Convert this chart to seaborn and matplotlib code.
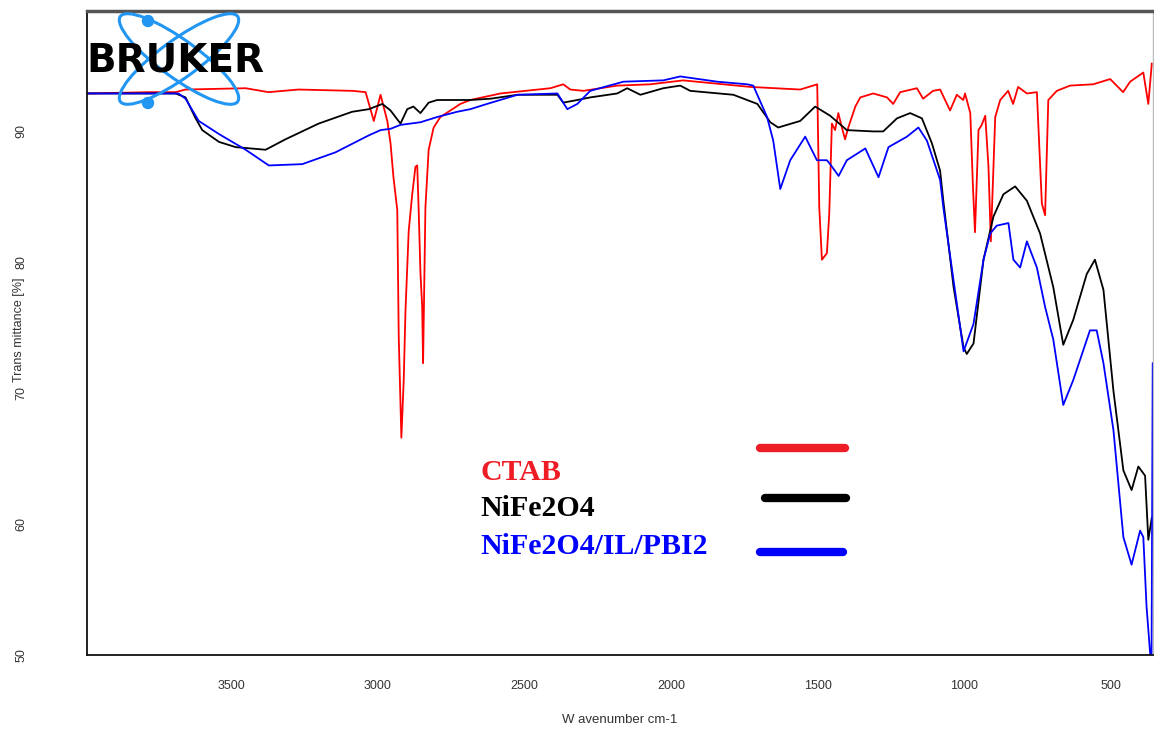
import numpy as np
import pandas as pd
import seaborn as sns
import matplotlib.pyplot as plt
from matplotlib.patches import Ellipse, Circle

# FTIR spectra (wavenumber cm-1, transmittance %)
ctab_wn = [3990, 3775, 3690, 3656, 3451, 3373, 3271, 3087, 3042, 3014, 2991, 2968, 2957, 2947,
           2934, 2929, 2920, 2912, 2906, 2895, 2883, 2872, 2866, 2861, 2855, 2849, 2846, 2838,
           2827, 2810, 2787, 2753, 2719, 2685, 2582, 2412, 2368, 2344, 2299, 2184, 2071, 1959,
           1730, 1560, 1502, 1495, 1486, 1469, 1461, 1452, 1441, 1430, 1418, 1407, 1396, 1372,
           1355, 1311, 1264, 1243, 1219, 1162, 1141, 1107, 1083, 1049, 1026, 1004, 998, 980,
           971, 964, 952, 941, 929, 918, 910, 895, 878, 851, 834, 817, 787, 753, 736, 725,
           714, 685, 640, 561, 503, 459, 435, 390, 373, 361]
ctab_t = [92.9, 93.0, 93.0, 93.2, 93.3, 93.0, 93.2, 93.1, 93.0, 90.8, 92.8, 90.8, 89.1, 86.5,
          84.0, 74.3, 66.6, 71.0, 76.3, 82.4, 85.2, 87.3, 87.4, 84.0, 79.2, 76.6, 72.3, 84.2,
          88.6, 90.3, 91.1, 91.6, 92.1, 92.4, 92.9, 93.3, 93.6, 93.2, 93.1, 93.5, 93.6, 93.9,
          93.4, 93.2, 93.6, 84.2, 80.2, 80.7, 83.7, 90.6, 90.1, 91.4, 90.3, 89.4, 90.3, 91.9,
          92.6, 92.9, 92.6, 92.1, 93.0, 93.3, 92.5, 93.1, 93.2, 91.6, 92.8, 92.4, 92.9, 91.4,
          85.8, 82.3, 90.1, 90.5, 91.2, 87.3, 81.6, 91.1, 92.4, 93.1, 92.1, 93.4, 92.9, 93.0,
          84.5, 83.6, 92.4, 93.1, 93.5, 93.6, 94.0, 93.0, 93.8, 94.5, 92.1, 95.2]

nife_wn = [3990, 3690, 3656, 3624, 3599, 3542, 3485, 3383, 3315, 3202, 3088, 3031, 2985, 2957,
           2923, 2900, 2879, 2855, 2827, 2798, 2685, 2616, 2524, 2388, 2368, 2320, 2276, 2184,
           2150, 2105, 2027, 1969, 1935, 1788, 1706, 1662, 1635, 1560, 1509, 1458, 1401, 1311,
           1277, 1230, 1185, 1145, 1111, 1083, 1072, 1037, 1003, 992, 969, 935, 901, 867, 827,
           787, 742, 697, 663, 629, 583, 555, 526, 492, 458, 430, 407, 384, 373, 361]
nife_t = [92.9, 92.9, 92.6, 91.1, 90.1, 89.2, 88.8, 88.6, 89.4, 90.6, 91.5, 91.7, 92.1, 91.6,
          90.6, 91.7, 91.9, 91.4, 92.2, 92.4, 92.4, 92.5, 92.8, 92.8, 92.2, 92.4, 92.6, 92.9,
          93.3, 92.8, 93.3, 93.5, 93.1, 92.8, 92.1, 90.7, 90.3, 90.8, 91.9, 91.2, 90.1, 90.0,
          90.0, 91.0, 91.4, 91.0, 89.1, 87.0, 84.7, 78.1, 73.5, 73.0, 73.8, 80.2, 83.5, 85.2,
          85.8, 84.7, 82.2, 78.1, 73.7, 75.6, 79.1, 80.2, 77.9, 70.2, 64.1, 62.6, 64.4, 63.7,
          58.8, 60.5]

pbi_wn = [3990, 3680, 3656, 3611, 3542, 3451, 3372, 3258, 3145, 3031, 2991, 2957, 2923, 2855,
          2798, 2730, 2685, 2628, 2524, 2388, 2354, 2320, 2276, 2163, 2027, 1969, 1843, 1741,
          1720, 1673, 1652, 1628, 1594, 1543, 1503, 1469, 1458, 1429, 1401, 1338, 1293, 1259,
          1196, 1157, 1128, 1083, 1072, 1037, 1003, 969, 935, 912, 890, 850, 833, 810, 787,
          753, 725, 697, 663, 629, 572, 549, 526, 492, 458, 430, 401, 390, 379, 367, 362, 358]
pbi_t = [92.9, 92.9, 92.5, 90.8, 89.8, 88.6, 87.4, 87.5, 88.4, 89.7, 90.1, 90.2, 90.5, 90.7,
         91.1, 91.5, 91.7, 92.1, 92.8, 92.9, 91.7, 92.1, 93.1, 93.8, 93.9, 94.2, 93.8, 93.6,
         93.5, 91.1, 89.3, 85.6, 87.8, 89.6, 87.8, 87.8, 87.5, 86.6, 87.8, 88.7, 86.5, 88.8,
         89.6, 90.3, 89.3, 86.3, 84.2, 78.6, 73.2, 75.3, 80.2, 82.2, 82.8, 83.0, 80.2, 79.6,
         81.6, 79.6, 76.6, 74.1, 69.1, 71.0, 74.8, 74.8, 72.3, 67.2, 59.0, 56.9, 59.5, 59.0,
         53.7, 50.2, 49.0, 72.3]

samples = ['CTAB', 'NiFe2O4', 'NiFe2O4/IL/PBI2']
colors = {'CTAB': '#ff0000', 'NiFe2O4': '#000000', 'NiFe2O4/IL/PBI2': '#0000ff'}
legend_colors = ['#ee1c24', '#000000', '#0000ff']

df = pd.concat([
    pd.DataFrame({'wn': ctab_wn, 't': ctab_t, 'sample': samples[0]}),
    pd.DataFrame({'wn': nife_wn, 't': nife_t, 'sample': samples[1]}),
    pd.DataFrame({'wn': pbi_wn, 't': pbi_t, 'sample': samples[2]}),
])

sns.set_style('white')
plt.rcParams['font.family'] = ['Liberation Sans', 'DejaVu Sans']

W, H = 1154, 731
fig = plt.figure(figsize=(W / 100, H / 100), dpi=100)
ax = fig.add_axes([87 / W, 76 / H, 1066 / W, 644 / H])

sns.lineplot(data=df, x='wn', y='t', hue='sample', palette=colors, estimator=None,
             sort=False, lw=1.3, legend=False, ax=ax)

ax.set_xlim(3992, 357)
ax.set_ylim(50, 99.2)
ax.set_xticks([3500, 3000, 2500, 2000, 1500, 1000, 500])
ax.set_yticks([50, 60, 70, 80, 90])
ax.tick_params(axis='both', direction='out', length=5, width=1, color='#222222',
               labelsize=9, labelcolor='#333333')
ax.tick_params(axis='x', pad=13)
ax.tick_params(axis='y', pad=38, labelrotation=90)
for lab in ax.get_yticklabels():
    lab.set_va('center')

ax.set_xlabel('W avenumber cm-1', fontsize=9.5, color='#333333')
ax.set_ylabel('Trans mittance [%]', fontsize=9, color='#333333')
ax.xaxis.set_label_coords(0.5, -0.092)
ax.yaxis.set_label_coords(-0.058, 0.505)

ax.spines['top'].set_color('#555555')
ax.spines['top'].set_linewidth(2.5)
ax.spines['left'].set_color('#111111')
ax.spines['left'].set_linewidth(1.3)
ax.spines['bottom'].set_color('#111111')
ax.spines['bottom'].set_linewidth(1.3)
ax.spines['right'].set_color('#bbbbbb')
ax.spines['right'].set_linewidth(1)

# legend drawn the way the original has it: text block and separate swatches
text_y = [0.284, 0.227, 0.169]
line_y = [0.321, 0.244, 0.160]
line_x = [(0.631, 0.711), (0.636, 0.712), (0.631, 0.709)]
for name, c, ty, ly, lx in zip(samples, legend_colors, text_y, line_y, line_x):
    ax.text(0.369, ty, name, transform=ax.transAxes, color=c, fontsize=21.5,
            fontweight='bold', family=['Liberation Serif', 'DejaVu Serif'],
            ha='left', va='center')
    ax.plot(lx, [ly, ly], transform=ax.transAxes, color=c, lw=6,
            solid_capstyle='round')

# Bruker logo
tr = fig.dpi_scale_trans
logo_blue = '#2196f3'
for ang in (36, -36):
    fig.add_artist(Ellipse((1.79, H / 100 - 0.59), 1.45, 0.38, angle=ang, fill=False,
                           ec=logo_blue, lw=2.2, transform=tr))
for cy in (0.21, 1.03):
    fig.add_artist(Circle((1.48, H / 100 - cy), 0.055, color=logo_blue, transform=tr))
fig.text(0.86 / (W / 100), 1 - 0.61 / (H / 100), 'BRUKER', fontsize=28, fontweight='bold',
         family=['DejaVu Sans'], color='black', ha='left', va='center')

fig.savefig('out.png', dpi=100)
